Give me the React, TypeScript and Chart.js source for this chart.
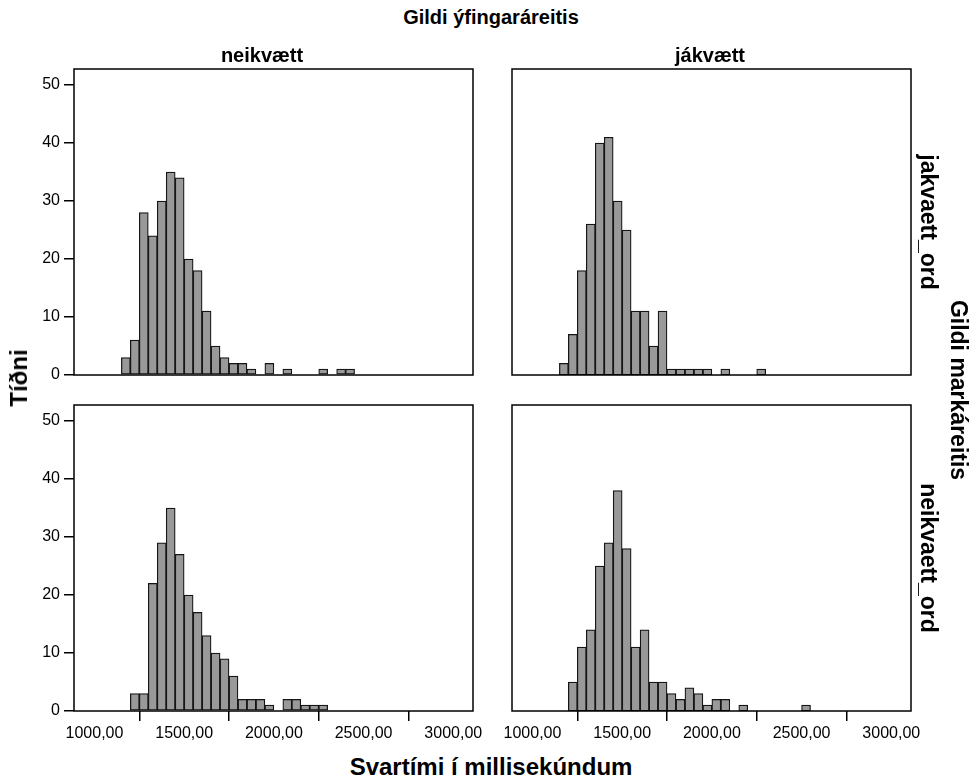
import React, { useEffect, useRef } from "react";
import { Chart, registerables } from "chart.js";

Chart.register(...registerables);

// ---- data ----
const binCenters = [
  1175, 1225, 1275, 1325, 1375, 1425, 1475, 1525, 1575, 1625, 1675, 1725, 1775, 1825,
  1875, 1925, 1975, 2025, 2075, 2125, 2175, 2225, 2275, 2325, 2375, 2425, 2475, 2525,
];
// ýfing = neikvætt, mark = jakvaett_ord
const countsNeiJak = [3, 6, 28, 24, 30, 35, 34, 20, 18, 11, 5, 3, 2, 2, 1, 0, 2, 0, 1, 0, 0, 0, 1, 0, 1, 1, 0, 0];
// ýfing = jákvætt, mark = jakvaett_ord
const countsJakJak = [2, 7, 18, 26, 40, 41, 30, 25, 11, 11, 5, 11, 1, 1, 1, 1, 1, 0, 1, 0, 0, 0, 1, 0, 0, 0, 0, 0];
// ýfing = neikvætt, mark = neikvaett_ord
const countsNeiNei = [0, 3, 3, 22, 29, 35, 27, 20, 17, 13, 10, 9, 6, 2, 2, 2, 1, 0, 2, 2, 1, 1, 1, 0, 0, 0, 0, 0];
// ýfing = jákvætt, mark = neikvaett_ord
const countsJakNei = [0, 5, 11, 14, 25, 29, 38, 28, 11, 14, 5, 5, 3, 2, 4, 3, 1, 2, 2, 0, 1, 0, 0, 0, 0, 0, 0, 1];

const xTickValues = [1000, 1500, 2000, 2500, 3000];
const xTickLabels = ["1000,00", "1500,00", "2000,00", "2500,00", "3000,00"];
const yTickValues = [0, 10, 20, 30, 40, 50];
const yTickLabels = ["0", "10", "20", "30", "40", "50"];

const X_MIN = 886;
const X_MAX = 3110;
const Y_MAX = 52.76;

const FONT = "'Liberation Sans', Arial, Helvetica, sans-serif";

const PLOT_W = 399;
const PLOT_H = 306;

const boxPlugin = {
  id: "panelBox",
  afterDraw(chart: any) {
    const { ctx, chartArea: a } = chart;
    ctx.save();
    ctx.strokeStyle = "#000";
    ctx.lineWidth = 1.5;
    ctx.strokeRect(a.left, a.top, a.right - a.left, a.bottom - a.top);
    ctx.restore();
  },
};

type PanelProps = {
  counts: number[];
  showY: boolean;
  showX: boolean;
  plotLeft: number;
  plotTop: number;
};

function Panel({ counts, showY, showX, plotLeft, plotTop }: PanelProps) {
  const ref = useRef<HTMLCanvasElement | null>(null);
  const yW = showY ? 74 : 30;
  const xH = showX ? 40 : 14;
  const padT = 14;
  const padR = 40;
  const width = yW + PLOT_W + padR;
  const height = padT + PLOT_H + xH;

  useEffect(() => {
    const chart = new Chart(ref.current as HTMLCanvasElement, {
      type: "bar",
      data: {
        datasets: [
          {
            data: binCenters.map((x, i) => ({ x, y: counts[i] })),
            backgroundColor: "#999999",
            borderColor: "#151515",
            borderWidth: 1.25,
            borderSkipped: false,
            barPercentage: 1,
            categoryPercentage: 1,
          } as any,
        ],
      },
      options: {
        animation: false,
        responsive: false,
        maintainAspectRatio: false,
        layout: { padding: { left: 0, top: padT, right: padR, bottom: 0 } },
        plugins: {
          legend: { display: false },
          tooltip: { enabled: false },
          title: { display: false },
        },
        scales: {
          x: {
            type: "linear",
            min: X_MIN,
            max: X_MAX,
            offset: false,
            afterFit: (s: any) => {
              s.height = xH;
            },
            afterBuildTicks: (s: any) => {
              s.ticks = xTickValues.map((v) => ({ value: v }));
            },
            ticks: {
              display: showX,
              callback: (v: any) => {
                const i = xTickValues.indexOf(Number(v));
                return i >= 0 ? xTickLabels[i] : "";
              },
              font: { family: FONT, size: 16 },
              color: "#000",
              padding: 3,
              maxRotation: 0,
              autoSkip: false,
            },
            grid: {
              display: showX,
              drawOnChartArea: false,
              drawTicks: showX,
              tickLength: 10,
              color: "#000",
              lineWidth: 1.5,
            },
            border: { display: false },
          },
          y: {
            type: "linear",
            min: 0,
            max: Y_MAX,
            afterFit: (s: any) => {
              s.width = yW;
            },
            afterBuildTicks: (s: any) => {
              s.ticks = yTickValues.map((v) => ({ value: v }));
            },
            ticks: {
              display: showY,
              callback: (v: any) => {
                const i = yTickValues.indexOf(Number(v));
                return i >= 0 ? yTickLabels[i] : "";
              },
              font: { family: FONT, size: 16 },
              color: "#000",
              padding: 4,
              autoSkip: false,
            },
            grid: {
              display: showY,
              drawOnChartArea: false,
              drawTicks: showY,
              tickLength: 10,
              color: "#000",
              lineWidth: 1.5,
            },
            border: { display: false },
          },
        },
      } as any,
      plugins: [boxPlugin],
    });
    return () => chart.destroy();
  }, []);

  return (
    <canvas
      ref={ref}
      width={width}
      height={height}
      style={{
        position: "absolute",
        left: plotLeft - yW,
        top: plotTop - padT,
        width,
        height,
      }}
    />
  );
}

function Label({
  text,
  x,
  y,
  size,
  rotate = 0,
}: {
  text: string;
  x: number;
  y: number;
  size: number;
  rotate?: number;
}) {
  return (
    <div
      style={{
        position: "absolute",
        left: x,
        top: y,
        transform: `translate(-50%, -50%) rotate(${rotate}deg)`,
        whiteSpace: "nowrap",
        fontFamily: FONT,
        fontWeight: "bold",
        fontSize: size,
        color: "#000",
        lineHeight: 1,
      }}
    >
      {text}
    </div>
  );
}

export default function App() {
  return (
    <div
      style={{
        position: "absolute",
        left: 0,
        top: 0,
        width: 971,
        height: 780,
        background: "#fff",
        overflow: "hidden",
      }}
    >
      <Panel counts={countsNeiJak} showY={true} showX={false} plotLeft={74} plotTop={69} />
      <Panel counts={countsJakJak} showY={false} showX={false} plotLeft={512} plotTop={69} />
      <Panel counts={countsNeiNei} showY={true} showX={true} plotLeft={74} plotTop={405} />
      <Panel counts={countsJakNei} showY={false} showX={true} plotLeft={512} plotTop={405} />

      <Label text="Gildi ýfingaráreitis" x={491} y={17} size={20} />
      <Label text="neikvætt" x={262} y={55} size={20} />
      <Label text="jákvætt" x={710} y={55} size={20} />
      <Label text="jakvaett_ord" x={928} y={222} size={23} rotate={90} />
      <Label text="neikvaett_ord" x={928} y={558} size={23} rotate={90} />
      <Label text="Gildi markáreitis" x={958} y={390} size={23} rotate={90} />
      <Label text="Tíðni" x={19} y={378} size={24} rotate={-90} />
      <Label text="Svartími í millisekúndum" x={491} y={767} size={24} />
    </div>
  );
}
